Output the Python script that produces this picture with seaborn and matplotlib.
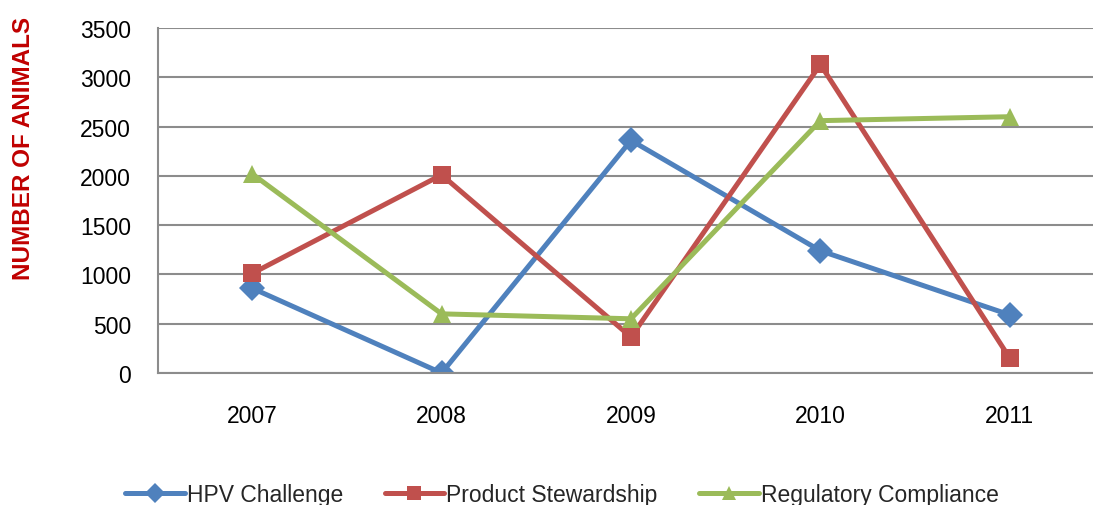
import matplotlib
matplotlib.use("Agg")
import matplotlib.pyplot as plt
import pandas as pd
import seaborn as sns

years = [2007, 2008, 2009, 2010, 2011]
series_names = ["HPV Challenge", "Product Stewardship", "Regulatory Compliance"]
hpv_challenge = [860, 0, 2360, 1240, 590]
product_stewardship = [1010, 2010, 365, 3130, 150]
regulatory_compliance = [2020, 600, 550, 2560, 2600]

colors = ["#4F81BD", "#C0504D", "#9BBB59"]
markers = ["D", "s", "^"]

rows = []
for name, vals in zip(series_names,
                      [hpv_challenge, product_stewardship, regulatory_compliance]):
    for yr, v in zip(years, vals):
        rows.append({"year": yr, "animals": v, "series": name})
df = pd.DataFrame(rows)

sns.set_style("white")
plt.rcParams["font.family"] = ["Liberation Sans", "DejaVu Sans"]

fig = plt.figure(figsize=(10.93, 5.06), dpi=100)
ax = fig.add_axes([157.5 / 1093, 132 / 506, 947 / 1093, 345 / 506])

sns.lineplot(
    data=df,
    x="year",
    y="animals",
    hue="series",
    style="series",
    palette=dict(zip(series_names, colors)),
    markers=dict(zip(series_names, markers)),
    dashes=False,
    linewidth=3.6,
    markersize=13.5,
    markeredgewidth=0,
    ax=ax,
)

ax.set_xlim(2006.5, 2011.5)
ax.set_ylim(0, 3500)
ax.set_xticks(years)
ax.set_xticklabels([str(y) for y in years])
ax.set_yticks(range(0, 3501, 500))
ax.yaxis.grid(True, color="#8C8C8C", linewidth=1.5)
ax.set_axisbelow(True)
ax.set_xlabel("")
ax.set_ylabel("")
ax.tick_params(axis="both", length=0, labelsize=16.5, colors="black")
ax.tick_params(axis="y", pad=19)
ax.tick_params(axis="x", pad=22)
for side in ["top", "right"]:
    ax.spines[side].set_visible(False)
for side in ["left", "bottom"]:
    ax.spines[side].set_color("#8C8C8C")
    ax.spines[side].set_linewidth(1.5)

handles, labels = ax.get_legend_handles_labels()
ax.get_legend().remove()
fig.legend(
    handles, labels,
    loc="center", bbox_to_anchor=(562 / 1093, 1 - 496 / 506),
    ncol=3, frameon=False, fontsize=16.5, markerscale=0.75,
    handlelength=2.6, handletextpad=0.1, columnspacing=1.8,
)

fig.text(24 / 1093, 1 - 148 / 506, "NUMBER OF ANIMALS", rotation=90,
         color="#C00000", fontweight="bold", fontsize=17.5,
         ha="center", va="center")

fig.savefig("out.png", dpi=100)
